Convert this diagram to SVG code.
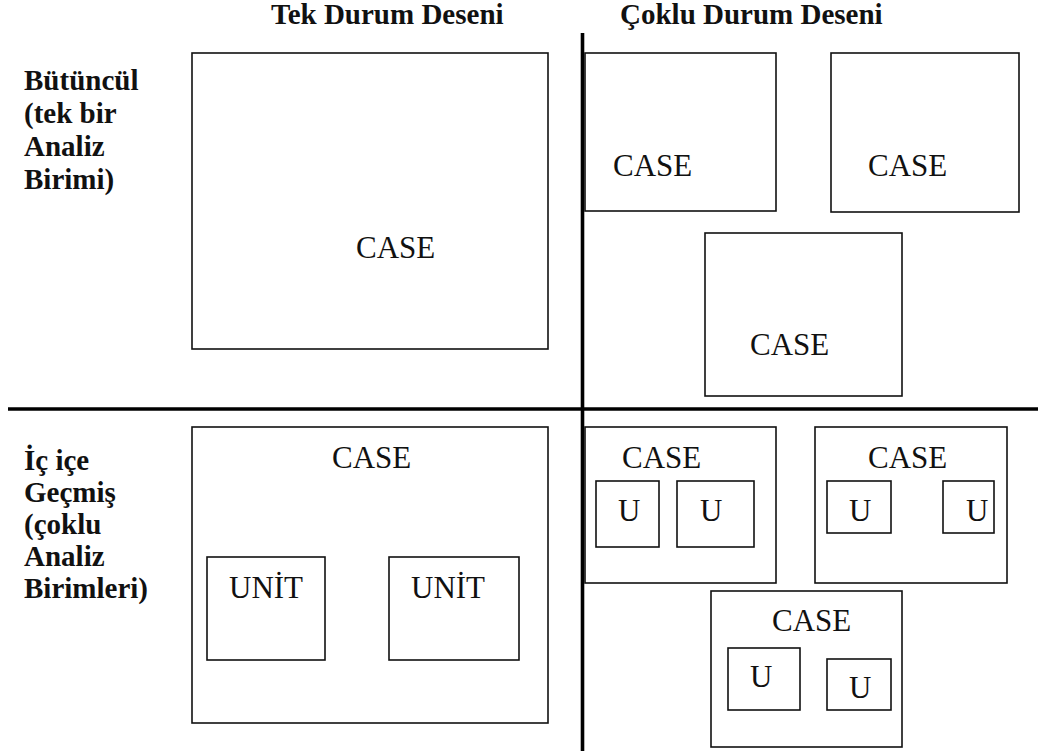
<svg xmlns="http://www.w3.org/2000/svg" width="1038" height="751" viewBox="0 0 1038 751">
<style>
.box{fill:none;stroke:#111;stroke-width:1.6}
.div{stroke:#000;stroke-width:3.6}
.t{font-family:"Liberation Serif","Times New Roman",serif;font-size:31px;fill:#111}
.h{font-family:"Liberation Serif","Times New Roman",serif;font-size:29px;font-weight:bold;fill:#111}
</style>
<rect width="1038" height="751" fill="#fff"/>
<g id="headers">
<text class="h" x="271" y="24">Tek Durum Deseni</text>
<text class="h" x="620" y="24">Çoklu Durum Deseni</text>
</g>
<g id="row-labels">
<text class="h" x="24" y="90">Bütüncül</text>
<text class="h" x="24" y="123">(tek bir</text>
<text class="h" x="24" y="156">Analiz</text>
<text class="h" x="24" y="189">Birimi)</text>
<text class="h" x="24" y="470">İç içe</text>
<text class="h" x="24" y="502">Geçmiş</text>
<text class="h" x="24" y="534">(çoklu</text>
<text class="h" x="24" y="566">Analiz</text>
<text class="h" x="24" y="598">Birimleri)</text>
</g>
<g id="connectors">
<line class="div" x1="582.5" y1="33" x2="582.5" y2="751"/>
<line class="div" x1="8" y1="409" x2="1038" y2="409"/>
</g>
<g id="single-holistic">
<rect class="box" x="192" y="53" width="356" height="296"/>
<text class="t" x="356" y="258">CASE</text>
</g>
<g id="multi-holistic-1">
<rect class="box" x="585" y="53" width="191" height="158"/>
<text class="t" x="613" y="176">CASE</text>
</g>
<g id="multi-holistic-2">
<rect class="box" x="831" y="53" width="188" height="159"/>
<text class="t" x="868" y="176">CASE</text>
</g>
<g id="multi-holistic-3">
<rect class="box" x="705" y="233" width="197" height="163"/>
<text class="t" x="750" y="355">CASE</text>
</g>
<g id="single-embedded">
<rect class="box" x="192" y="427" width="356" height="296"/>
<text class="t" x="332" y="468">CASE</text>
<rect class="box" x="207" y="557" width="118" height="103"/>
<text class="t" x="229" y="598">UNİT</text>
<rect class="box" x="389" y="557" width="130" height="103"/>
<text class="t" x="411" y="598">UNİT</text>
</g>
<g id="multi-embedded-1">
<rect class="box" x="585" y="427" width="191" height="156"/>
<text class="t" x="622" y="468">CASE</text>
<rect class="box" x="596" y="481" width="63" height="66"/>
<text class="t" x="618" y="521">U</text>
<rect class="box" x="677" y="481" width="77" height="66"/>
<text class="t" x="700" y="521">U</text>
</g>
<g id="multi-embedded-2">
<rect class="box" x="815" y="427" width="192" height="156"/>
<text class="t" x="868" y="468">CASE</text>
<rect class="box" x="827" y="481" width="64" height="52"/>
<text class="t" x="849" y="521">U</text>
<rect class="box" x="943" y="481" width="51" height="52"/>
<text class="t" x="966" y="521">U</text>
</g>
<g id="multi-embedded-3">
<rect class="box" x="711" y="591" width="191" height="156"/>
<text class="t" x="772" y="631">CASE</text>
<rect class="box" x="728" y="648" width="72" height="62"/>
<text class="t" x="750" y="687">U</text>
<rect class="box" x="827" y="659" width="64" height="51"/>
<text class="t" x="849" y="698">U</text>
</g>
</svg>
